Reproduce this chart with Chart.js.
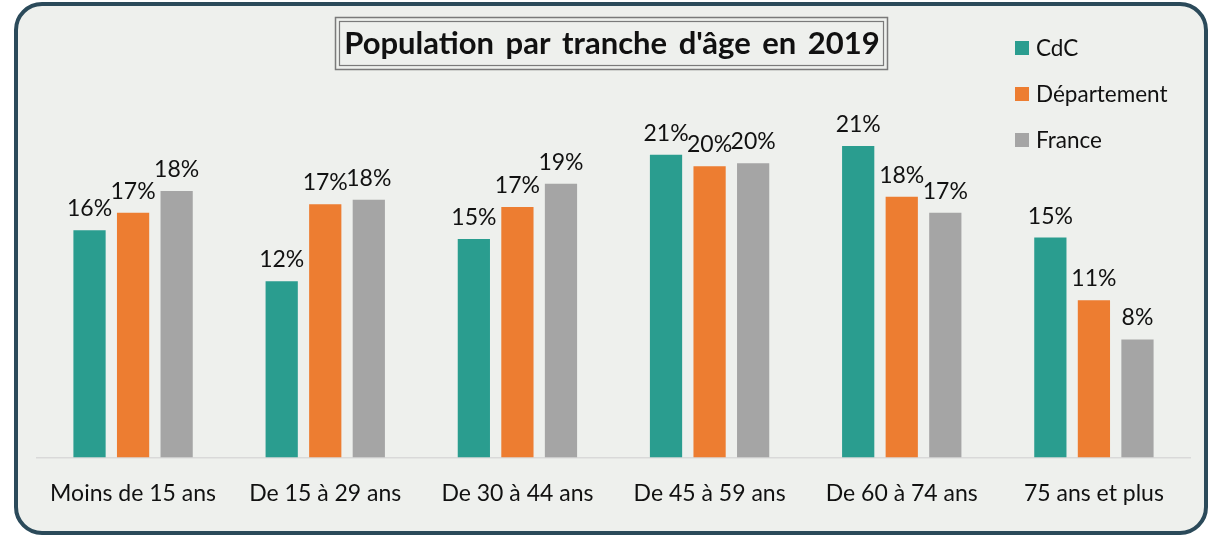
<!DOCTYPE html>
<html>
<head>
<meta charset="utf-8">
<script src="https://cdn.jsdelivr.net/npm/chart.js@4"></script>
<style>
    html, body { margin: 0; padding: 0; background: #ffffff; }
    #wrap { position: absolute; left: 0; top: 0; width: 1217px; height: 537px; }
</style>
</head>
<body>
<div id="wrap"><canvas id="ageChart" width="1217" height="537"></canvas></div>
<script>
// Chart data
const categories = ['Moins de 15 ans', 'De 15 à 29 ans', 'De 30 à 44 ans', 'De 45 à 59 ans', 'De 60 à 74 ans', '75 ans et plus'];
const cdcValues = [15.6, 12.1, 15.0, 20.8, 21.4, 15.1];
const departementValues = [16.8, 17.4, 17.2, 20.0, 17.9, 10.8];
const franceValues = [18.3, 17.7, 18.8, 20.2, 16.8, 8.1];
const seriesNames = ['CdC', 'Département', 'France'];
const chartTitle = "Population par tranche d'âge en 2019";

const FONT = 'Lato, "Open Sans", sans-serif';

/**
 * Panel background + rounded border
 */
const panelPlugin = {
    id: 'panel',
    beforeDraw(chart) {
        const ctx = chart.ctx;
        ctx.save();
        ctx.beginPath();
        ctx.roundRect(16, 4, 1190, 529, 26);
        ctx.fillStyle = '#eef0ed';
        ctx.fill();
        ctx.lineWidth = 4;
        ctx.strokeStyle = '#2b4a5a';
        ctx.stroke();
        ctx.restore();
    }
};

/**
 * Title box, legend and value labels
 */
const decorPlugin = {
    id: 'decor',
    afterDraw(chart) {
        const ctx = chart.ctx;
        ctx.save();

        // Title with double border
        ctx.strokeStyle = '#7a7a7a';
        ctx.lineWidth = 1.5;
        ctx.strokeRect(335.5, 17.5, 552, 52);
        ctx.lineWidth = 1.2;
        ctx.strokeRect(339.5, 21.5, 544, 44);
        ctx.fillStyle = '#111111';
        ctx.font = 'bold 31px ' + FONT;
        ctx.textAlign = 'center';
        ctx.textBaseline = 'middle';
        ctx.wordSpacing = '4px';
        ctx.fillText(chartTitle, 612, 44);
        ctx.wordSpacing = '0px';

        // Legend
        ctx.font = '22.5px ' + FONT;
        ctx.textAlign = 'left';
        chart.data.datasets.forEach((ds, i) => {
            const y = 48 + i * 46;
            ctx.fillStyle = ds.backgroundColor;
            ctx.fillRect(1015, y - 7, 14, 14);
            ctx.fillStyle = '#111111';
            ctx.fillText(ds.label, 1036, y + 1);
        });

        // Value labels above bars
        ctx.font = '23px ' + FONT;
        ctx.textAlign = 'center';
        ctx.textBaseline = 'alphabetic';
        ctx.fillStyle = '#111111';
        chart.data.datasets.forEach((ds, i) => {
            chart.getDatasetMeta(i).data.forEach((bar, j) => {
                ctx.fillText(Math.round(ds.data[j]) + '%', bar.x, bar.y - 14);
            });
        });
        ctx.restore();
    }
};

const ctx = document.getElementById('ageChart').getContext('2d');
new Chart(ctx, {
    type: 'bar',
    data: {
        labels: categories,
        datasets: [
            { label: seriesNames[0], data: cdcValues, backgroundColor: '#2a9d8f' },
            { label: seriesNames[1], data: departementValues, backgroundColor: '#ed7d31' },
            { label: seriesNames[2], data: franceValues, backgroundColor: '#a5a5a5' }
        ]
    },
    options: {
        responsive: false,
        animation: false,
        events: [],
        barPercentage: 0.74,
        categoryPercentage: 0.68,
        layout: {
            padding: { top: 93.5, left: 37, right: 27, bottom: 8 }
        },
        plugins: {
            legend: { display: false },
            title: { display: false },
            tooltip: { enabled: false }
        },
        scales: {
            x: {
                grid: { display: false, drawTicks: false },
                border: { display: true, color: '#d9d9d9', width: 1.5 },
                ticks: {
                    color: '#111111',
                    padding: 22,
                    font: { family: FONT, size: 23 }
                }
            },
            y: {
                display: false,
                min: 0,
                max: 25
            }
        }
    },
    plugins: [panelPlugin, decorPlugin]
});
</script>
</body>
</html>
